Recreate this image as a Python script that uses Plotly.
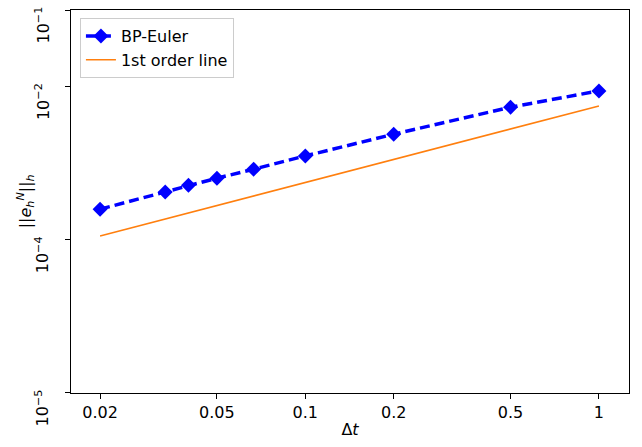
import math
import plotly.graph_objects as go

# Time step sizes and measured errors
dt = [0.02, 1/30, 0.04, 0.05, 1/15, 0.1, 0.2, 0.5, 1.0]
err = [2.51e-4, 4.22e-4, 5.16e-4, 6.37e-4, 8.35e-4, 1.245e-3, 2.39e-3, 5.39e-3, 8.79e-3]

# Reference first-order slope (endpoints)
ref_dt = [0.02, 1.0]
ref_err = [1.12e-4, 5.6e-3]

# Axis ticks
x_tickvals = [0.02, 0.05, 0.1, 0.2, 0.5, 1]
x_ticktext = ["0.02", "0.05", "0.1", "0.2", "0.5", "1"]
y_tickvals = [1e-1, 1e-2, 1e-4, 1e-6]
y_ticktext = ["10<sup>−1</sup>", "10<sup>−2</sup>", "10<sup>−4</sup>", "10<sup>−5</sup>"]

FONT = "DejaVu Sans"
FS = 16

fig = go.Figure()
fig.add_trace(go.Scatter(
    x=dt, y=err, mode="lines+markers", name="BP-Euler",
    line=dict(color="#0000ff", width=3.5, dash="10px,5px"),
    marker=dict(symbol="diamond", size=11.5, color="#0000ff"),
))
fig.add_trace(go.Scatter(
    x=ref_dt, y=ref_err, mode="lines", name="1st order line",
    line=dict(color="#ff7f0e", width=1.5),
))

axis_common = dict(
    showline=True, linecolor="black", linewidth=1, mirror=True,
    ticks="outside", ticklen=5, tickcolor="black", tickwidth=1,
    showgrid=False, zeroline=False,
    tickfont=dict(family=FONT, size=FS, color="black"),
)

fig.update_xaxes(
    type="log", range=[-1.798, 0.1024],
    tickmode="array", tickvals=x_tickvals, ticktext=x_ticktext,
    title=dict(text="Δ<i>t</i>", font=dict(family=FONT, size=FS, color="black"), standoff=2),
    **axis_common,
)
fig.update_yaxes(
    type="log", range=[-6.0005, -0.9995],
    tickmode="array", tickvals=y_tickvals, showticklabels=False,
    **axis_common,
)

# Rotated y tick labels, hanging just below their ticks
annotations = []
for v, t in zip(y_tickvals, y_ticktext):
    annotations.append(dict(
        x=-0.0287, xref="paper", y=math.log10(v), yref="y",
        text=t, textangle=-90, showarrow=False,
        xanchor="right", yanchor="middle", yshift=-15,
        font=dict(family=FONT, size=FS, color="black"),
    ))
# Y axis title
annotations.append(dict(
    x=-0.081, xref="paper", y=0.5, yref="paper",
    text="||<i>e</i><sub><i>h</i></sub><sup><i>N</i></sup>||<sub><i>h</i></sub>",
    textangle=-90, showarrow=False, xanchor="center", yanchor="middle",
    font=dict(family=FONT, size=FS, color="black"),
))

fig.update_layout(
    width=642, height=447,
    margin=dict(l=71, r=13, t=10, b=54),
    paper_bgcolor="white", plot_bgcolor="white",
    font=dict(family=FONT, size=FS, color="black"),
    showlegend=True,
    annotations=annotations,
    legend=dict(
        x=0.016, y=0.979, xanchor="left", yanchor="top",
        bgcolor="rgba(255,255,255,0.8)", bordercolor="#cccccc", borderwidth=1,
        font=dict(family=FONT, size=FS, color="black"),
        itemwidth=30, tracegroupgap=0,
    ),
)

fig.write_html("out.html")
